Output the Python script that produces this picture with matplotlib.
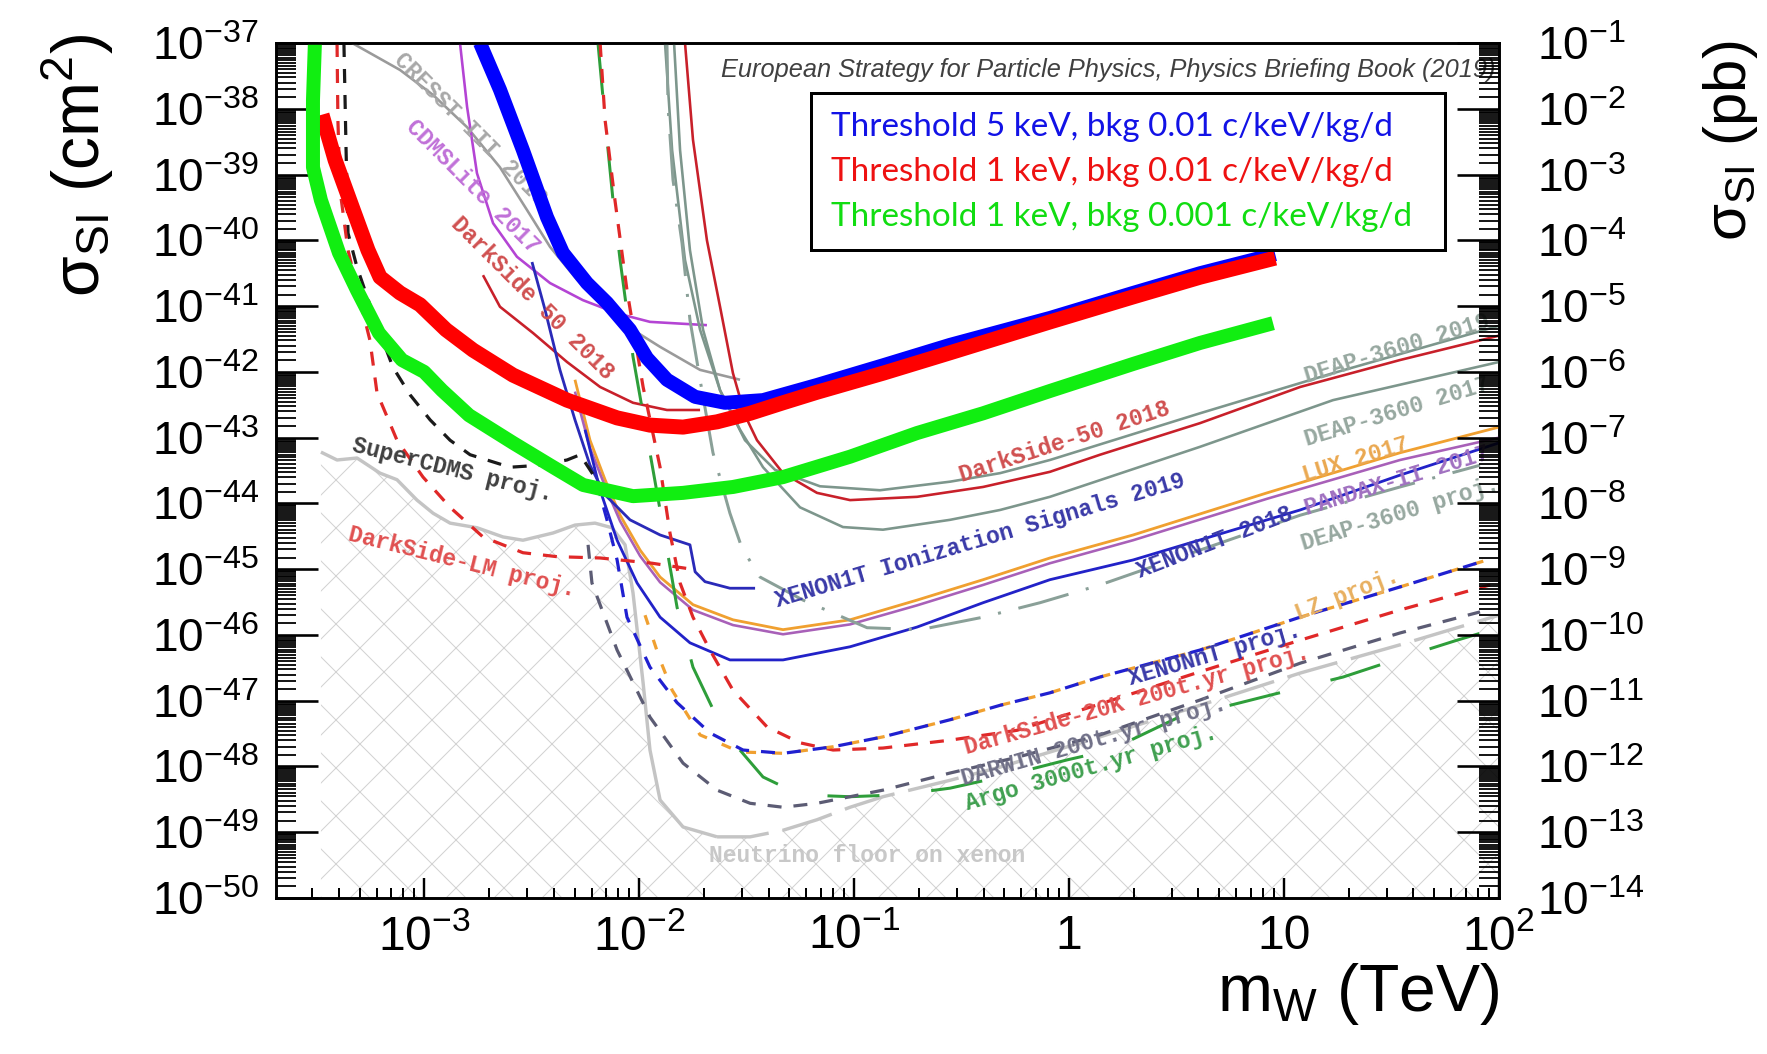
import numpy as np
import matplotlib
matplotlib.use("Agg")
import matplotlib.pyplot as plt
from matplotlib import font_manager
from matplotlib.patches import Rectangle
from matplotlib.ticker import LogLocator, NullFormatter

# =====================================================================
# DATA  (every curve: log10(m_W / TeV) , log10(sigma_SI / cm^2))
# =====================================================================
# --- projections of this study (thick lines)
thr5_bkg001_logm = [-2.741, -2.648, -2.541, -2.429, -2.355, -2.243, -2.150, -2.043, -1.964, -1.871,
                    -1.740, -1.601, -1.424, -1.173, -0.865, -0.554, -0.088, 0.298, 0.610, 0.959]
thr5_bkg001_logs = [-37.00, -37.71, -38.63, -39.65, -40.19, -40.65, -40.95, -41.36, -41.79, -42.12,
                    -42.38, -42.47, -42.43, -42.20, -41.90, -41.59, -41.18, -40.80, -40.50, -40.21]

thr1_bkg001_logm = [-3.476, -3.415, -3.336, -3.262, -3.206, -3.113, -3.020, -2.899, -2.773, -2.587,
                    -2.336, -2.103, -1.950, -1.796, -1.638, -1.484, -1.331, -1.173, -0.865, -0.554,
                    -0.088, 0.298, 0.610, 0.959]
thr1_bkg001_logs = [-38.09, -38.78, -39.49, -40.15, -40.56, -40.80, -40.98, -41.36, -41.67, -42.05,
                    -42.43, -42.70, -42.81, -42.84, -42.76, -42.63, -42.47, -42.31, -42.02, -41.71,
                    -41.24, -40.86, -40.56, -40.27]

thr1_bkg0001_logm = [-3.509, -3.518, -3.518, -3.481, -3.397, -3.313, -3.211, -3.104, -3.001, -2.918,
                     -2.792, -2.587, -2.415, -2.261, -2.029, -1.796, -1.563, -1.331, -1.019, -0.707,
                     -0.400, -0.088, 0.298, 0.610, 0.949]
thr1_bkg0001_logs = [-37.00, -37.87, -38.89, -39.39, -40.19, -40.76, -41.41, -41.82, -42.00, -42.28,
                     -42.66, -43.08, -43.42, -43.72, -43.89, -43.84, -43.75, -43.60, -43.29, -42.93,
                     -42.63, -42.29, -41.88, -41.56, -41.26]

# --- existing limits (thin solid lines)
cresst_logm = [-3.336, -3.113, -2.959, -2.801, -2.648, -2.522, -2.415, -2.289, -2.103, -1.903, -1.717, -1.531]
cresst_logs = [-37.00, -37.41, -37.79, -38.28, -38.89, -39.54, -40.10, -40.60, -41.21, -41.62, -41.97, -42.12]

cdmslite_logm = [-2.834, -2.801, -2.755, -2.680, -2.569, -2.415, -2.262, -2.103, -1.950, -1.685]
cdmslite_logs = [-37.00, -37.97, -38.98, -39.74, -40.25, -40.65, -40.91, -41.11, -41.24, -41.29]

ds50_low_logm = [-2.727, -2.648, -2.494, -2.336, -2.182, -2.029, -1.871, -1.717]
ds50_low_logs = [-40.53, -41.01, -41.41, -41.85, -42.23, -42.47, -42.58, -42.58]

ds50_high_logm = [-1.787, -1.750, -1.685, -1.624, -1.564, -1.508, -1.452, -1.331, -1.173, -1.019,
                  -0.707, -0.400, -0.089, 0.144, 0.609, 1.075, 1.540, 2.000]
ds50_high_logs = [-37.00, -38.47, -40.00, -41.01, -42.02, -42.66, -43.04, -43.54, -43.84, -43.95,
                  -43.90, -43.75, -43.52, -43.26, -42.78, -42.23, -41.82, -41.45]

deap2019_logm = [-1.838, -1.810, -1.764, -1.703, -1.624, -1.508, -1.368, -1.159, -0.880, -0.554,
                 -0.321, -0.089, 0.609, 1.228, 2.000]
deap2019_logs = [-37.00, -38.63, -40.15, -41.36, -42.28, -43.04, -43.49, -43.74, -43.80, -43.67,
                 -43.54, -43.34, -42.63, -42.02, -41.30]

deap2017_logm = [-1.880, -1.847, -1.787, -1.717, -1.624, -1.531, -1.424, -1.252, -1.052, -0.866,
                 -0.554, -0.321, -0.089, 0.609, 1.228, 2.000]
deap2017_logs = [-37.00, -38.63, -40.30, -41.36, -42.28, -42.88, -43.45, -44.06, -44.36, -44.40,
                 -44.25, -44.10, -43.90, -43.14, -42.43, -41.85]

lux_logm = [-2.299, -2.229, -2.159, -2.089, -1.996, -1.903, -1.750, -1.564, -1.331, -1.019,
            -0.707, -0.400, -0.089, 0.298, 0.921, 1.540, 2.000]
lux_logs = [-42.12, -43.04, -43.64, -44.18, -44.71, -45.12, -45.54, -45.77, -45.92, -45.77,
            -45.47, -45.16, -44.83, -44.48, -43.84, -43.23, -42.84]

pandax_logm = [-2.299, -2.229, -2.159, -2.089, -1.996, -1.903, -1.750, -1.564, -1.331, -1.019,
               -0.707, -0.400, -0.089, 0.298, 0.921, 1.540, 2.000]
pandax_logs = [-42.30, -43.16, -43.74, -44.27, -44.80, -45.20, -45.62, -45.85, -45.99, -45.84,
               -45.55, -45.24, -44.91, -44.56, -43.93, -43.34, -43.00]

xenon1t_logm = [-2.252, -2.182, -2.103, -2.010, -1.903, -1.764, -1.578, -1.331, -1.019, -0.707,
                -0.400, -0.089, 0.298, 1.075, 1.540, 2.000]
xenon1t_logs = [-42.88, -43.80, -44.56, -45.21, -45.73, -46.12, -46.38, -46.38, -46.18, -45.88,
                -45.51, -45.16, -44.86, -44.10, -43.57, -43.08]

x1t_ion_logm = [-2.499, -2.438, -2.369, -2.299, -2.229, -2.159, -2.043, -1.903, -1.764, -1.740,
                -1.694, -1.578, -1.461]
x1t_ion_logs = [-40.33, -41.06, -41.97, -42.73, -43.42, -43.87, -44.25, -44.48, -44.63, -45.04,
                -45.19, -45.29, -45.29]

# --- projections (dashed lines)
supercdms_logm = [-3.374, -3.364, -3.355, -3.313, -3.229, -3.146, -3.066, -2.973, -2.880, -2.787,
                  -2.601, -2.462, -2.336, -2.275, -2.229, -2.168]
supercdms_logs = [-37.00, -38.63, -39.89, -40.41, -41.21, -41.93, -42.35, -42.73, -43.04, -43.26,
                  -43.45, -43.42, -43.34, -43.26, -43.49, -43.80]

dslm_logm = [-3.406, -3.402, -3.392, -3.355, -3.299, -3.253, -3.220, -3.127, -3.006, -2.880,
             -2.727, -2.541, -2.383, -2.182, -1.940, -1.736]
dslm_logs = [-37.00, -38.17, -39.24, -40.15, -40.91, -41.52, -42.32, -43.04, -43.60, -44.06,
             -44.51, -44.75, -44.81, -44.83, -44.91, -45.01]

xenonnt_logm = [-2.182, -2.150, -2.103, -2.057, -1.950, -1.824, -1.671, -1.517, -1.331, -1.098,
                -0.866, -0.554, -0.321, -0.089, 0.144, 0.609, 1.075, 1.540, 1.945]
xenonnt_logs = [-43.87, -44.25, -44.86, -45.73, -46.49, -47.03, -47.49, -47.75, -47.80, -47.70,
                -47.55, -47.29, -47.07, -46.88, -46.64, -46.23, -45.73, -45.27, -44.86]

lz_logm = [-1.973, -1.903, -1.847, -1.717, -1.531, -1.331, -1.098, -0.866, -0.554, -0.321,
           -0.089, 0.144, 0.609, 1.075, 1.540, 1.945]
lz_logs = [-45.70, -46.38, -46.84, -47.52, -47.78, -47.80, -47.70, -47.55, -47.29, -47.07,
           -46.88, -46.64, -46.23, -45.73, -45.27, -44.86]

ds20k_logm = [-2.182, -2.159, -2.113, -2.057, -1.982, -1.903, -1.857, -1.810, -1.750, -1.671,
              -1.564, -1.405, -1.252, -1.098, -0.866, -0.554, -0.242, 0.144, 0.609, 1.075, 1.540, 1.959]
ds20k_logs = [-37.00, -38.17, -39.39, -40.76, -42.23, -43.45, -44.45, -45.21, -45.73, -46.23,
              -46.84, -47.40, -47.64, -47.75, -47.72, -47.60, -47.45, -47.05, -46.56, -46.08, -45.62, -45.24]

darwin_logm = [-2.238, -2.220, -2.103, -1.950, -1.796, -1.638, -1.484, -1.331, -1.173, -0.866,
               -0.554, -0.242, 0.144, 0.609, 1.075, 1.540, 1.912]
darwin_logs = [-44.63, -45.21, -46.23, -47.25, -47.95, -48.36, -48.56, -48.62, -48.56, -48.36,
               -48.10, -47.86, -47.52, -46.99, -46.43, -45.97, -45.65]

argo_logm = [-2.192, -2.159, -2.122, -2.089, -2.029, -1.996, -1.936, -1.889, -1.824, -1.750,
             -1.610, -1.424, -1.252, -1.019, -0.787, -0.554, -0.321, -0.009, 0.191, 0.530,
             0.749, 1.028, 1.275, 1.554, 1.805, 2.000]
argo_logs = [-37.00, -38.17, -39.39, -40.30, -41.77, -42.38, -43.49, -44.36, -45.58, -46.49,
             -47.45, -48.16, -48.43, -48.46, -48.43, -48.33, -48.16, -47.90, -47.75, -47.22,
             -47.07, -46.84, -46.64, -46.34, -46.08, -45.89]

deap_proj_logm = [-1.871, -1.866, -1.843, -1.801, -1.764, -1.717, -1.657, -1.578, -1.522, -1.438,
                  -1.238, -0.940, -0.693, -0.400, -0.135, 0.144, 0.609, 1.075, 1.540, 1.912]
deap_proj_logs = [-37.00, -37.97, -39.08, -40.04, -41.21, -42.12, -43.23, -44.15, -44.68, -45.12,
                  -45.47, -45.89, -45.92, -45.73, -45.51, -45.24, -44.71, -44.18, -43.75, -43.42]

# --- neutrino floor on xenon (top of the hatched region)
floor_logm = [-3.481, -3.406, -3.313, -3.206, -3.127, -3.034, -2.959, -2.880, -2.755, -2.634,
              -2.541, -2.401, -2.299, -2.206, -2.127, -2.066, -2.029, -1.982, -1.950, -1.903,
              -1.796, -1.638, -1.484, -1.331, -1.173, -1.019, -0.866, -0.554, -0.321, 0.144,
              0.609, 1.075, 1.540, 2.000]
floor_logs = [-43.22, -43.34, -43.31, -43.54, -43.64, -43.95, -44.15, -44.30, -44.37, -44.51,
              -44.56, -44.45, -44.33, -44.30, -44.37, -44.63, -45.36, -46.73, -47.75, -48.51,
              -48.92, -49.07, -49.07, -48.97, -48.81, -48.62, -48.46, -48.21, -48.01, -47.55,
              -47.07, -46.58, -46.15, -45.70]

# --- ticks
x_ticks = [1e-3, 1e-2, 1e-1, 1, 10, 100]
x_tick_labels = [r"$\mathdefault{10^{-3}}$", r"$\mathdefault{10^{-2}}$", r"$\mathdefault{10^{-1}}$",
                 "1", "10", r"$\mathdefault{10^{2}}$"]
y_ticks = [1e-37, 1e-38, 1e-39, 1e-40, 1e-41, 1e-42, 1e-43, 1e-44, 1e-45, 1e-46, 1e-47,
           1e-48, 1e-49, 1e-50]
y_tick_labels = [r"$\mathdefault{10^{-37}}$", r"$\mathdefault{10^{-38}}$", r"$\mathdefault{10^{-39}}$",
                 r"$\mathdefault{10^{-40}}$", r"$\mathdefault{10^{-41}}$", r"$\mathdefault{10^{-42}}$",
                 r"$\mathdefault{10^{-43}}$", r"$\mathdefault{10^{-44}}$", r"$\mathdefault{10^{-45}}$",
                 r"$\mathdefault{10^{-46}}$", r"$\mathdefault{10^{-47}}$", r"$\mathdefault{10^{-48}}$",
                 r"$\mathdefault{10^{-49}}$", r"$\mathdefault{10^{-50}}$"]
y2_ticks = [1e-1, 1e-2, 1e-3, 1e-4, 1e-5, 1e-6, 1e-7, 1e-8, 1e-9, 1e-10, 1e-11, 1e-12,
            1e-13, 1e-14]
y2_tick_labels = [r"$\mathdefault{10^{-1}}$", r"$\mathdefault{10^{-2}}$", r"$\mathdefault{10^{-3}}$",
                  r"$\mathdefault{10^{-4}}$", r"$\mathdefault{10^{-5}}$", r"$\mathdefault{10^{-6}}$",
                  r"$\mathdefault{10^{-7}}$", r"$\mathdefault{10^{-8}}$", r"$\mathdefault{10^{-9}}$",
                  r"$\mathdefault{10^{-10}}$", r"$\mathdefault{10^{-11}}$", r"$\mathdefault{10^{-12}}$",
                  r"$\mathdefault{10^{-13}}$", r"$\mathdefault{10^{-14}}$"]

legend_labels = ["Threshold 5 keV, bkg 0.01 c/keV/kg/d",
                 "Threshold 1 keV, bkg 0.01 c/keV/kg/d",
                 "Threshold 1 keV, bkg 0.001 c/keV/kg/d"]

# =====================================================================
# STYLE / FIGURE
# =====================================================================
_names = {f.name for f in font_manager.fontManager.ttflist}
HAS_NARROW = "Liberation Sans Narrow" in _names
NARROW = "Liberation Sans Narrow" if HAS_NARROW else "Liberation Sans"
LEGFONT = "Lato" if "Lato" in _names else "DejaVu Sans"
MONO = "Liberation Mono" if "Liberation Mono" in _names else "DejaVu Sans Mono"

plt.rcParams.update({
    "font.family": ["Liberation Sans", "DejaVu Sans"],
    "lines.scale_dashes": False,
    "hatch.linewidth": 0.5,
    "hatch.color": "#d2d2d2",
    "axes.linewidth": 1.3,
    "lines.solid_capstyle": "butt",
    "lines.dash_capstyle": "butt",
})

W, H, DPI = 1767, 1054, 144
fig = plt.figure(figsize=(W / DPI, H / DPI), dpi=DPI)
ax = fig.add_axes([0.1562, 0.1480, 0.6921, 0.8112])
ax.set_xscale("log")
ax.set_yscale("log")
ax.set_xlim(10 ** -3.69, 1e2)
ax.set_ylim(1e-50, 1e-37)


def L(a):
    return 10.0 ** np.asarray(a, dtype=float)


# hatched region under the neutrino floor
ax.fill_between(L(floor_logm), L(floor_logs), 1e-50, facecolor="none",
                edgecolor="#d2d2d2", hatch="x", linewidth=0, zorder=1)
fm, fs = L(floor_logm), L(floor_logs)
solid = np.asarray(floor_logm) <= -1.63
cut = int(np.argmax(~solid)) - 1
ax.plot(fm[:cut + 1], fs[:cut + 1], color="#c4c4c4", lw=1.7, zorder=2)
ax.plot(fm[cut:], fs[cut:], color="#c4c4c4", lw=1.7, dashes=(26, 7), zorder=2)

# thin solid curves
ax.plot(L(cresst_logm), L(cresst_logs), color="#9a9a9a", lw=1.3, zorder=3)
ax.plot(L(cdmslite_logm), L(cdmslite_logs), color="#b444d4", lw=1.3, zorder=3)
ax.plot(L(ds50_low_logm), L(ds50_low_logs), color="#c8202a", lw=1.3, zorder=3)
ax.plot(L(deap2019_logm), L(deap2019_logs), color="#7d968c", lw=1.3, zorder=3)
ax.plot(L(deap2017_logm), L(deap2017_logs), color="#7d968c", lw=1.3, zorder=3)
ax.plot(L(ds50_high_logm), L(ds50_high_logs), color="#c8202a", lw=1.3, zorder=3)
ax.plot(L(lux_logm), L(lux_logs), color="#f0a030", lw=1.4, zorder=3)
ax.plot(L(pandax_logm), L(pandax_logs), color="#a860b8", lw=1.3, zorder=3)
ax.plot(L(xenon1t_logm), L(xenon1t_logs), color="#2222c8", lw=1.4, zorder=3)
ax.plot(L(x1t_ion_logm), L(x1t_ion_logs), color="#2a2ab8", lw=1.4, zorder=3)

# projections (dashed)
ax.plot(L(deap_proj_logm), L(deap_proj_logs), color="#8aa098", lw=1.5,
        dashes=(26, 9, 1.5, 9), zorder=3)
ax.plot(L(argo_logm), L(argo_logs), color="#2e9e3a", lw=1.5, dashes=(26, 26), zorder=3)
ax.plot(L(darwin_logm), L(darwin_logs), color="#5c5c74", lw=1.6, dashes=(7, 6), zorder=3)
ax.plot(L(supercdms_logm), L(supercdms_logs), color="#1a1a1a", lw=1.6, dashes=(7, 6), zorder=3)
ax.plot(L(dslm_logm), L(dslm_logs), color="#e02828", lw=1.6, dashes=(7, 6), zorder=3)
ax.plot(L(ds20k_logm), L(ds20k_logs), color="#e02828", lw=1.6, dashes=(7, 6), zorder=3)
ax.plot(L(lz_logm), L(lz_logs), color="#f0a030", lw=1.6, dashes=(5, 8), zorder=3)
ax.plot(L(xenonnt_logm), L(xenonnt_logs), color="#2020d0", lw=1.6,
        linestyle=(6.5, (7, 6)), zorder=3)

# thick curves of this study
ax.plot(L(thr5_bkg001_logm), L(thr5_bkg001_logs), color="#0000ff", lw=7.0, zorder=6,
        solid_joinstyle="round")
ax.plot(L(thr1_bkg001_logm), L(thr1_bkg001_logs), color="#ff0000", lw=7.5, zorder=7,
        solid_joinstyle="round")
ax.plot(L(thr1_bkg0001_logm), L(thr1_bkg0001_logs), color="#11ee11", lw=7.0, zorder=8,
        solid_joinstyle="round")


# curve annotations
def note(text, lm, ls, rot, color):
    ax.text(10 ** lm, 10 ** ls, text, rotation=rot, rotation_mode="anchor",
            ha="center", va="center", color=color, family=MONO, fontsize=11.5,
            fontweight="bold", clip_on=True, zorder=4)


note("CRESST-III 2019", -2.787, -38.32, -45, "#a8a8a8")
note("CDMSLite 2017", -2.773, -39.19, -45, "#c070d8")
note("DarkSide 50 2018", -2.499, -40.88, -45, "#d05050")
note("SuperCDMS proj.", -2.866, -43.49, -14, "#404040")
note("DarkSide-LM proj.", -2.825, -44.89, -14, "#e05050")
note("XENON1T Ionization Signals 2019", -0.414, -44.56, 16.5, "#3a3aa8")
note("DarkSide-50 2018", -0.019, -43.07, 18, "#d05050")
note("DEAP-3600 2019", 1.526, -41.64, 17, "#97a8a0")
note("DEAP-3600 2017", 1.526, -42.60, 17, "#97a8a0")
note("LUX 2017", 1.335, -43.34, 17, "#eaa850")
note("PANDAX-II 2017", 1.526, -43.66, 17, "#a070c0")
note("DEAP-3600 proj.", 1.540, -44.16, 17, "#97a8a0")
note("XENON1T 2018", 0.679, -44.60, 21, "#3a3aa8")
note("LZ proj.", 1.293, -45.39, 21, "#e8b060")
note("XENONnT proj.", 0.679, -46.30, 16, "#3a3aa8")
note("DarkSide-20K 200t.yr proj.", 0.316, -46.99, 15.6, "#e05050")
note("DARWIN 200t.yr proj.", 0.116, -47.61, 16, "#707088")
note("Argo 3000t.yr proj.", 0.102, -48.02, 16, "#40a050")
note("Neutrino floor on xenon", -0.940, -49.35, 0, "#c8c8c8")

# header
ax.text(0.3639, 0.9684,
        "European Strategy for Particle Physics, Physics Briefing Book (2019)",
        transform=ax.transAxes, ha="left", va="center", fontstyle="italic",
        family=NARROW, fontsize=15 if HAS_NARROW else 12.7, color="#404040",
        clip_on=True, zorder=9)

# legend box
ax.add_patch(Rectangle((0.4374, 0.758), 0.5185, 0.1836, transform=ax.transAxes,
                       facecolor="white", edgecolor="black", lw=1.5, zorder=10))
for lab, col, yy in zip(legend_labels, ["#1212e6", "#ee1111", "#11dd11"],
                        [0.9018, 0.8491, 0.7965]):
    ax.text(0.4538, yy, lab, transform=ax.transAxes, ha="left", va="center",
            color=col, family=LEGFONT, fontsize=16.6, zorder=11)

# ---------------- axes, ticks
minor_subs = np.arange(1.5, 10.0, 0.5)
ax.set_xticks(x_ticks, labels=x_tick_labels, fontfamily=NARROW)
ax.xaxis.set_minor_locator(LogLocator(base=10, subs=np.arange(2, 10), numticks=100))
ax.xaxis.set_minor_formatter(NullFormatter())
ax.set_yticks(y_ticks, labels=y_tick_labels)
ax.yaxis.set_minor_locator(LogLocator(base=10, subs=minor_subs, numticks=200))
ax.yaxis.set_minor_formatter(NullFormatter())
ax.tick_params(axis="y", which="major", direction="in", length=21, width=1.3, pad=8.5,
               labelsize=23, left=True, right=False)
ax.tick_params(axis="y", which="minor", direction="in", length=10, width=0.9,
               left=True, right=False)
ax.tick_params(axis="x", which="major", direction="in", length=10, width=1.2, pad=8,
               labelsize=26 if HAS_NARROW else 24, top=False)
ax.tick_params(axis="x", which="minor", direction="in", length=5, width=1.0, top=False)

ax2 = ax.twinx()
ax2.set_yscale("log")
ax2.set_ylim(1e-14, 1e-1)
ax2.set_yticks(y2_ticks, labels=y2_tick_labels)
ax2.yaxis.set_minor_locator(LogLocator(base=10, subs=minor_subs, numticks=200))
ax2.yaxis.set_minor_formatter(NullFormatter())
ax2.tick_params(axis="y", which="major", direction="in", length=21, width=1.3, pad=19,
                labelsize=23)
ax2.tick_params(axis="y", which="minor", direction="in", length=10, width=0.9)

# axis titles
ax.set_ylabel("σ$_{\\mathdefault{SI}}$ (cm$^{\\mathdefault{2}}$)", fontsize=33)
ax.yaxis.label.set(rotation_mode="default", ha="center", va="top")
ax.yaxis.set_label_coords(-0.162, 1.0105)
ax2.set_ylabel("σ$_{\\mathdefault{SI}}$ (pb)", fontsize=30)
ax2.yaxis.label.set(rotation=90, rotation_mode="default", ha="center", va="top")
ax2.yaxis.set_label_coords(1.189, 1.0035)
ax.set_xlabel("m$_{\\mathdefault{W}}$ (TeV)", fontsize=33)
ax.xaxis.label.set(ha="right", va="center")
ax.xaxis.set_label_coords(1.0, -0.112)

fig.savefig("out.png", dpi=DPI)
